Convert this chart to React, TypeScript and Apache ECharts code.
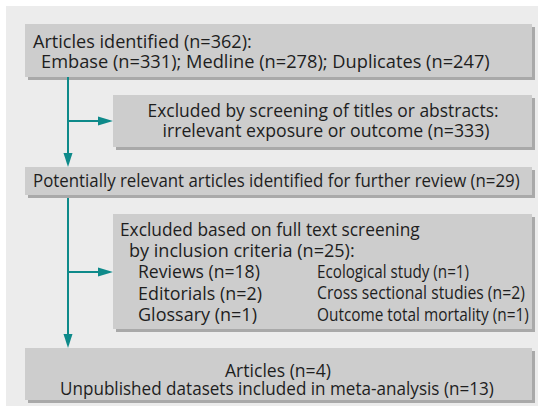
import React, { useEffect, useRef } from "react";
import * as echarts from "echarts";

const identifiedLines = [
  "Articles identified (n=362):",
  "Embase (n=331); Medline (n=278); Duplicates (n=247)",
];
const screeningLines = [
  "Excluded by screening of titles or abstracts:",
  "irrelevant exposure or outcome (n=333)",
];
const relevantLines = [
  "Potentially relevant articles identified for further review (n=29)",
];
const fullTextHeader = [
  "Excluded based on full text screening",
  "by inclusion criteria (n=25):",
];
const exclusionLeft = ["Reviews (n=18)", "Editorials (n=2)", "Glossary (n=1)"];
const exclusionRight = [
  "Ecological study (n=1)",
  "Cross sectional studies (n=2)",
  "Outcome total mortality (n=1)",
];
const includedLines = [
  "Articles (n=4)",
  "Unpublished datasets included in meta-analysis (n=13)",
];

const FONT_FAMILY = "'Open Sans'";
const FS = 18;
const TEXT = "#1e1e1e";
const BOX = "#cdcdcd";
const SHADOW = "#a9a9a9";
const TEAL = "#0e8a8a";

let measureCtx: CanvasRenderingContext2D | null = null;
function measure(s: string): number {
  if (!measureCtx) measureCtx = document.createElement("canvas").getContext("2d");
  if (!measureCtx) return s.length * FS * 0.5;
  measureCtx.font = `${FS}px ${FONT_FAMILY}`;
  return measureCtx.measureText(s).width;
}

function box(x: number, y: number, w: number, h: number): any[] {
  return [
    { type: "rect", shape: { x: x + 3, y: y + 3, width: w, height: h }, style: { fill: SHADOW } },
    { type: "rect", shape: { x, y, width: w, height: h }, style: { fill: BOX } },
  ];
}

// left edge, vertical centre, rendered width (the reference font is condensed)
function txt(s: string, left: number, cy: number, width: number): any {
  const m = measure(s);
  return {
    type: "text",
    x: left,
    y: cy,
    scaleX: width / m,
    style: {
      text: s,
      x: 0,
      y: 0,
      fill: TEXT,
      fontFamily: FONT_FAMILY,
      fontSize: FS,
      textAlign: "left",
      textVerticalAlign: "middle",
    },
  };
}

function txtC(s: string, cx: number, cy: number, width: number): any {
  return txt(s, cx - width / 2, cy, width);
}

function arrowDown(x: number, y1: number, y2: number): any[] {
  return [
    { type: "line", shape: { x1: x, y1, x2: x, y2: y2 - 12 }, style: { stroke: TEAL, lineWidth: 2 } },
    {
      type: "polygon",
      shape: { points: [[x - 4.5, y2 - 14], [x + 4.5, y2 - 14], [x, y2]] },
      style: { fill: TEAL },
    },
  ];
}

function arrowRight(x1: number, x2: number, y: number): any[] {
  return [
    { type: "line", shape: { x1, y1: y, x2: x2 - 12, y2: y }, style: { stroke: TEAL, lineWidth: 2 } },
    {
      type: "polygon",
      shape: { points: [[x2 - 15, y - 4.5], [x2 - 15, y + 4.5], [x2, y]] },
      style: { fill: TEAL },
    },
  ];
}

export default function App() {
  const ref = useRef<HTMLDivElement>(null);
  useEffect(() => {
    if (!ref.current) return;
    const chart = echarts.init(ref.current, undefined, { renderer: "svg" });
    const els: any[] = [];
    els.push({ type: "rect", shape: { x: 6, y: 6, width: 532, height: 400 }, style: { fill: "#ececec" } });

    els.push(...box(25, 24, 507, 53));
    els.push(...box(113, 95, 419, 52));
    els.push(...box(25, 167, 507, 28));
    els.push(...box(113, 214, 419, 115));
    els.push(...box(25, 348, 507, 52));

    els.push(...arrowDown(68, 77, 167));
    els.push(...arrowRight(68, 113, 121));
    els.push(...arrowDown(68, 198, 348));
    els.push(...arrowRight(68, 113, 272));

    els.push(txt(identifiedLines[0], 33, 41, 219));
    els.push(txt(identifiedLines[1], 41, 61, 449));
    els.push(txtC(screeningLines[0], 323, 110, 351));
    els.push(txtC(screeningLines[1], 326, 130, 327));
    els.push(txt(relevantLines[0], 33, 180, 487));
    els.push(txt(fullTextHeader[0], 120, 229, 300));
    els.push(txt(fullTextHeader[1], 129, 250, 226));
    const leftW = [122, 124, 119];
    const rightW = [152, 208, 212];
    exclusionLeft.forEach((s, i) => els.push(txt(s, 138, 271 + i * 21.5, leftW[i])));
    exclusionRight.forEach((s, i) => els.push(txt(s, 317, 271 + i * 21.5, rightW[i])));
    els.push(txtC(includedLines[0], 278, 370, 106));
    els.push(txtC(includedLines[1], 277, 388, 434));

    chart.setOption({ animation: false, graphic: { elements: els } });
    return () => chart.dispose();
  }, []);
  return (
    <div
      ref={ref}
      style={{ position: "fixed", left: 0, top: 0, width: 544, height: 412, background: "#ffffff" }}
    />
  );
}
